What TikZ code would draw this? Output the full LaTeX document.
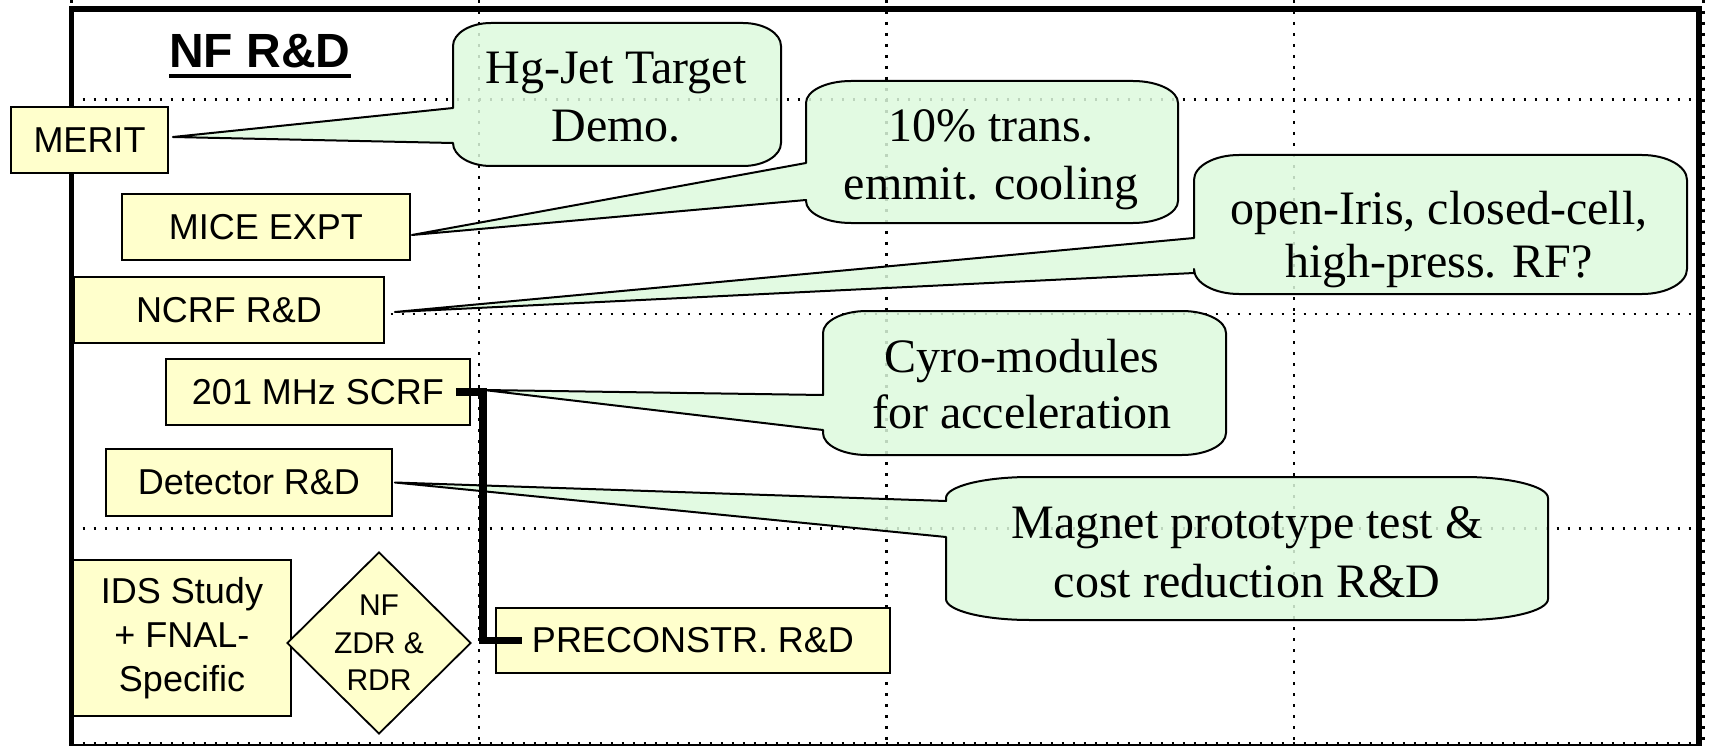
\documentclass[tikz,border=0pt]{standalone}
\usepackage{fontspec}
\setmainfont{Liberation Serif}
\setsansfont{Liberation Sans}
\usetikzlibrary{shapes.geometric,calc}

\definecolor{boxfill}{RGB}{255,255,204}
\definecolor{notefill}{RGB}{222,250,222}

% Rounded speech bubble with a wedge on its left side.
% #1 left, #2 top, #3 right, #4 bottom, #5/#6 corner radii,
% #7/#8 wedge base on the left edge, #9 wedge tip
\newcommand\notebubble[9]{%
  \path[note] (#1,#7) -- (#1,{#2+#6})
    arc[start angle=180,end angle=270,x radius=#5,y radius=#6]
    -- ({#3-#5},#2)
    arc[start angle=270,end angle=360,x radius=#5,y radius=#6]
    -- (#3,{#4-#6})
    arc[start angle=0,end angle=90,x radius=#5,y radius=#6]
    -- ({#1+#5},#4)
    arc[start angle=90,end angle=180,x radius=#5,y radius=#6]
    -- (#1,#8) -- #9 -- cycle;}

\tikzset{
  gridline/.style={draw=black, line width=2.6, dash pattern=on 2.6 off 8.4},
  frameline/.style={draw=black, line width=5.5},
  note/.style={draw=black, line width=2, fill=notefill, fill opacity=0.85, line join=round},
  notetext/.style={anchor=base, inner sep=0, font=\fontsize{48}{58}\selectfont},
  ybox/.style={draw=black, line width=1.8, fill=boxfill, inner sep=0, align=center,
    font=\sffamily\fontsize{36}{44}\selectfont},
  link/.style={draw=black, line width=7.5, line join=miter},
}

\begin{document}
\begin{tikzpicture}[x=1pt, y=-1pt]
  \fill[white] (0,0) rectangle (1710,746);
  \useasboundingbox (0,0) rectangle (1710,746);

  % dotted grid
  \foreach \gx in {71.5,479,886.5,1294,1703.5}
    \draw[gridline] (\gx,0) -- (\gx,746);
  \foreach \gy in {99.3,314,528.7,743}
    \draw[gridline] (71.5,\gy) -- (1703.5,\gy);

  % outer frame
  \draw[frameline] (71.5,9) rectangle (1699,746.5);

  % title
  \node[anchor=base west, inner sep=0, font=\sffamily\bfseries\fontsize{48}{56}\selectfont]
    (title) at (169,68) {NF R\&D};
  \draw[line width=4] ($(title.base west)+(0,8)$) -- ($(title.base east)+(0,8)$);

  % project boxes
  \node[ybox, minimum width=157, minimum height=66] (merit) at (89.5,140) {MERIT};
  \node[ybox, minimum width=288, minimum height=66] (mice) at (266,227) {MICE EXPT};
  \node[ybox, minimum width=310, minimum height=66] (ncrf) at (229,310) {NCRF R\&D};
  \node[ybox, minimum width=304, minimum height=66] (scrf) at (318,392) {201 MHz SCRF};
  \node[ybox, minimum width=286, minimum height=67] (detector) at (249,482.5) {Detector R\&D};
  \node[ybox, minimum width=218, minimum height=156] (ids) at (182,638)
    {IDS Study\\+ FNAL-\\Specific};
  \node[draw=black, line width=1.8, fill=boxfill, diamond, aspect=1.01, inner sep=0,
    minimum width=184, minimum height=182] (zdr) at (379,643) {};
  \node[align=center, inner sep=0, font=\sffamily\fontsize{30}{37.5}\selectfont]
    (zdrtext) at (zdr.center) {NF\\ZDR \&\\RDR};
  \node[ybox, minimum width=394, minimum height=65] (preconstr) at (693,640.5)
    {PRECONSTR. R\&D};

  % speech bubbles
  \notebubble{453}{23}{781}{166}{38}{23}{108}{143}{($(merit.east)+(4,-3)$)}
  \notebubble{806}{81}{1178}{223}{45}{22}{163}{200}{($(mice.east)+(1,8)$)}
  \notebubble{1194}{155}{1687}{294}{45}{25}{238}{273}{($(ncrf.east)+(10,2)$)}
  \notebubble{823}{311}{1226}{455}{44}{22}{395}{430}{($(scrf.east)+(13,-2)$)}
  \notebubble{946}{477}{1548}{620}{84}{21}{501}{537}{($(detector.east)+(2,0)$)}

  \node[notetext] (hgA) at (616,84) {Hg-Jet Target};
  \node[notetext] (hgB) at (616,142) {Demo.};
  \node[notetext] (coolA) at (991,142) {10\% trans.};
  \node[notetext] (coolB) at (991,200) {emmit. cooling};
  \node[notetext] (rfA) at (1439,224) {open-Iris, closed-cell,};
  \node[notetext] (rfB) at (1439,277) {high-press. RF?};
  \node[notetext] (cyroA) at (1022,372) {Cyro-modules};
  \node[notetext] (cyroB) at (1022,428) {for acceleration};
  \node[notetext] (magA) at (1247,538) {Magnet prototype test \&};
  \node[notetext] (magB) at (1247,597) {cost reduction R\&D};

  % elbow link from the SCRF box down to the pre-construction box
  \draw[link] ($(scrf.east)+(-15,0)$) -- ++(27,0) |- ($(preconstr.west)+(27,0)$);
\end{tikzpicture}
\end{document}
